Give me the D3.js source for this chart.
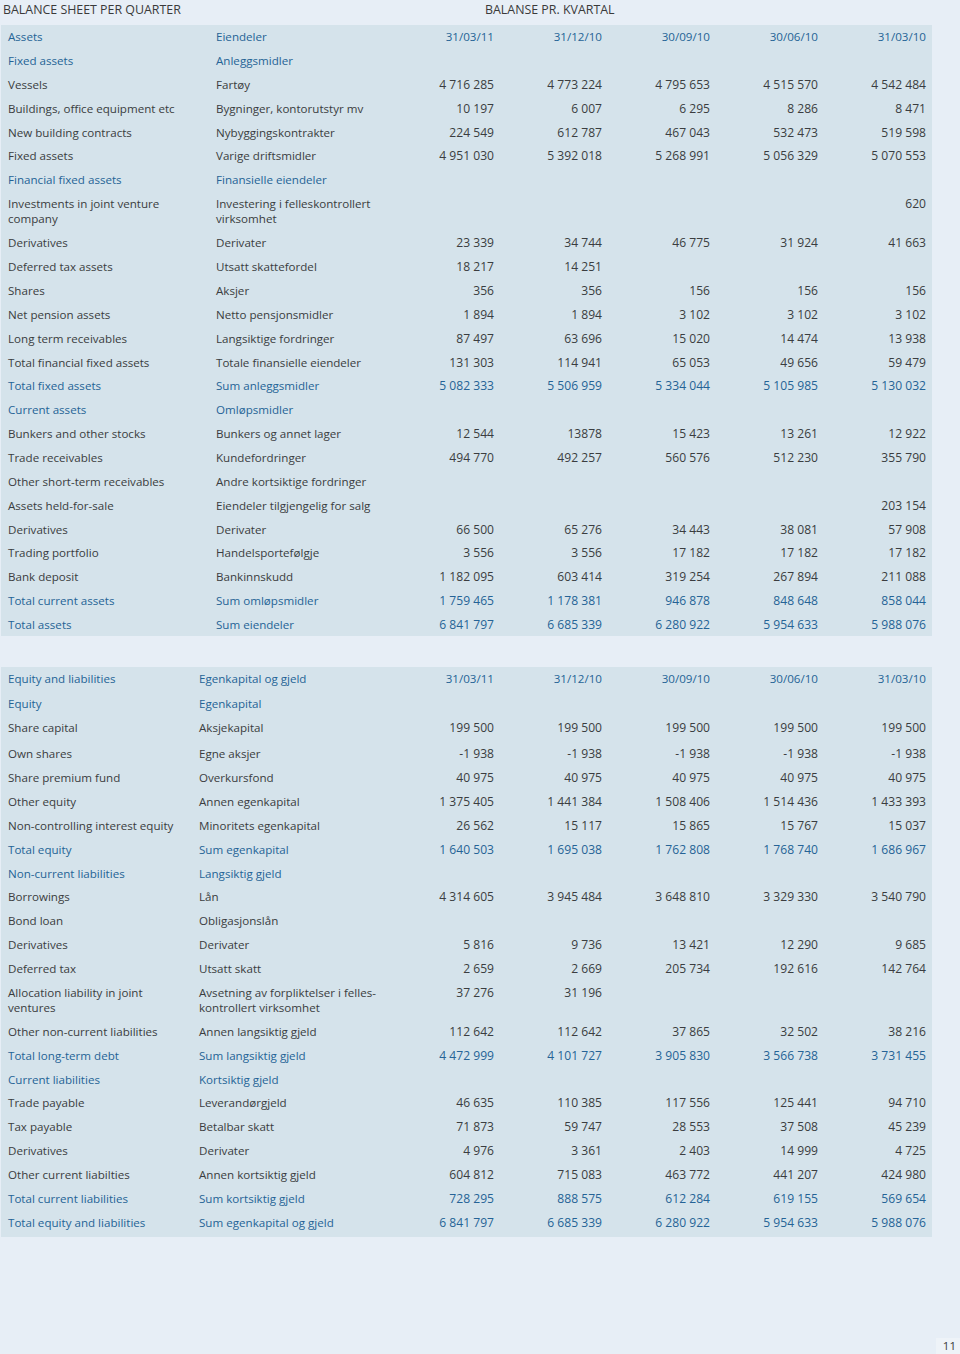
<!DOCTYPE html>
<html><head><meta charset="utf-8">
<script src="https://cdn.jsdelivr.net/npm/d3@7"></script>
<style>
html,body{margin:0;padding:0;background:#e7eef6;}
svg{display:block;}
text{font-family:"Open Sans","Noto Sans",sans-serif;}
</style></head><body>
<script>
// ---------- DATA ----------
const quarters = ["31/03/11","31/12/10","30/09/10","30/06/10","31/03/10"];

const assetLabelsEn = ["Assets","Fixed assets","Vessels","Buildings, office equipment etc","New building contracts","Fixed assets","Financial fixed assets","Investments in joint venture\ncompany","Derivatives","Deferred tax assets","Shares","Net pension assets","Long term receivables","Total financial fixed assets","Total fixed assets","Current assets","Bunkers and other stocks","Trade receivables","Other short-term receivables","Assets held-for-sale","Derivatives","Trading portfolio","Bank deposit","Total current assets","Total assets"];
const assetLabelsNo = ["Eiendeler","Anleggsmidler","Fartøy","Bygninger, kontorutstyr mv","Nybyggingskontrakter","Varige driftsmidler","Finansielle eiendeler","Investering i felleskontrollert\nvirksomhet","Derivater","Utsatt skattefordel","Aksjer","Netto pensjonsmidler","Langsiktige fordringer","Totale finansielle eiendeler","Sum anleggsmidler","Omløpsmidler","Bunkers og annet lager","Kundefordringer","Andre kortsiktige fordringer","Eiendeler tilgjengelig for salg","Derivater","Handelsportefølgje","Bankinnskudd","Sum omløpsmidler","Sum eiendeler"];
const assetValues = [
  quarters,
  ["","","","",""],
  ["4 716 285","4 773 224","4 795 653","4 515 570","4 542 484"],
  ["10 197","6 007","6 295","8 286","8 471"],
  ["224 549","612 787","467 043","532 473","519 598"],
  ["4 951 030","5 392 018","5 268 991","5 056 329","5 070 553"],
  ["","","","",""],
  ["","","","","620"],
  ["23 339","34 744","46 775","31 924","41 663"],
  ["18 217","14 251","","",""],
  ["356","356","156","156","156"],
  ["1 894","1 894","3 102","3 102","3 102"],
  ["87 497","63 696","15 020","14 474","13 938"],
  ["131 303","114 941","65 053","49 656","59 479"],
  ["5 082 333","5 506 959","5 334 044","5 105 985","5 130 032"],
  ["","","","",""],
  ["12 544","13878","15 423","13 261","12 922"],
  ["494 770","492 257","560 576","512 230","355 790"],
  ["","","","",""],
  ["","","","","203 154"],
  ["66 500","65 276","34 443","38 081","57 908"],
  ["3 556","3 556","17 182","17 182","17 182"],
  ["1 182 095","603 414","319 254","267 894","211 088"],
  ["1 759 465","1 178 381","946 878","848 648","858 044"],
  ["6 841 797","6 685 339","6 280 922","5 954 633","5 988 076"]
];
const assetHighlight = [0,1,6,14,15,23,24];

const liabLabelsEn = ["Equity and liabilities","Equity","Share capital","Own shares","Share premium fund","Other equity","Non-controlling interest equity","Total equity","Non-current liabilities","Borrowings","Bond loan","Derivatives","Deferred tax","Allocation liability in joint\nventures","Other non-current liabilities","Total long-term debt","Current liabilities","Trade payable","Tax payable","Derivatives","Other current liabilties","Total current liabilities","Total equity and liabilities"];
const liabLabelsNo = ["Egenkapital og gjeld","Egenkapital","Aksjekapital","Egne aksjer","Overkursfond","Annen egenkapital","Minoritets egenkapital","Sum egenkapital","Langsiktig gjeld","Lån","Obligasjonslån","Derivater","Utsatt skatt","Avsetning av forpliktelser i felles-\nkontrollert virksomhet","Annen langsiktig gjeld","Sum langsiktig gjeld","Kortsiktig gjeld","Leverandørgjeld","Betalbar skatt","Derivater","Annen kortsiktig gjeld","Sum kortsiktig gjeld","Sum egenkapital og gjeld"];
const liabValues = [
  quarters,
  ["","","","",""],
  ["199 500","199 500","199 500","199 500","199 500"],
  ["-1 938","-1 938","-1 938","-1 938","-1 938"],
  ["40 975","40 975","40 975","40 975","40 975"],
  ["1 375 405","1 441 384","1 508 406","1 514 436","1 433 393"],
  ["26 562","15 117","15 865","15 767","15 037"],
  ["1 640 503","1 695 038","1 762 808","1 768 740","1 686 967"],
  ["","","","",""],
  ["4 314 605","3 945 484","3 648 810","3 329 330","3 540 790"],
  ["","","","",""],
  ["5 816","9 736","13 421","12 290","9 685"],
  ["2 659","2 669","205 734","192 616","142 764"],
  ["37 276","31 196","","",""],
  ["112 642","112 642","37 865","32 502","38 216"],
  ["4 472 999","4 101 727","3 905 830","3 566 738","3 731 455"],
  ["","","","",""],
  ["46 635","110 385","117 556","125 441","94 710"],
  ["71 873","59 747","28 553","37 508","45 239"],
  ["4 976","3 361","2 403","14 999","4 725"],
  ["604 812","715 083","463 772","441 207","424 980"],
  ["728 295","888 575","612 284","619 155","569 654"],
  ["6 841 797","6 685 339","6 280 922","5 954 633","5 988 076"]
];
const liabHighlight = [0,1,7,8,15,16,21,22];

// ---------- LAYOUT ----------
const W = 960, H = 1354;
const C_TEXT = "#3a3d40", C_BLUE = "#256396", C_PANEL = "#d5e3eb", C_PAGE = "#e7eef6";
const FS = 11.6, FS_NUM = 12.1;
const ROW = 23.85, WRAP = 15.3;

const svg = d3.select("body").append("svg").attr("width", W).attr("height", H);
svg.append("rect").attr("width", W).attr("height", H).attr("fill", C_PAGE);

svg.append("text").attr("x", 3).attr("y", 13.5).attr("font-size", 12.4).attr("fill", "#3a3a3a").text("BALANCE SHEET PER QUARTER");
svg.append("text").attr("x", 485).attr("y", 13.5).attr("font-size", 12.4).attr("fill", "#3a3a3a").text("BALANSE PR. KVARTAL");

// numeric column scale (right edges)
const colX = d3.scalePoint().domain(d3.range(5)).range([494, 926]);

function drawPanel(cfg) {
  const g = svg.append("g");
  g.append("rect").attr("x", 1).attr("y", cfg.top).attr("width", 931).attr("height", cfg.bottom - cfg.top).attr("fill", C_PANEL);
  let y = cfg.firstY;
  const ys = [];
  cfg.en.forEach((lab, i) => {
    if (cfg.extraGap && cfg.extraGap[i]) y += cfg.extraGap[i];
    ys.push(y);
    const lines = Math.max(lab.split("\n").length, cfg.no[i].split("\n").length);
    y += ROW + (lines - 1) * WRAP;
  });
  const rows = g.selectAll("g.row").data(cfg.en.map((e, i) => ({en: e, no: cfg.no[i], vals: cfg.vals[i], y: ys[i], hl: cfg.hl.includes(i), hdr: i === 0})))
    .join("g").attr("class", "row").attr("transform", d => `translate(0,${d.y + 4.2})`);
  function multi(sel, x, key) {
    sel.append("text").attr("x", x).attr("font-size", FS).attr("fill", d => d.hl ? C_BLUE : C_TEXT)
      .each(function(d) {
        d3.select(this).selectAll("tspan").data(d[key].split("\n")).join("tspan")
          .attr("x", x).attr("dy", (t, j) => j ? WRAP : 0).text(t => t);
      });
  }
  multi(rows, 8, "en");
  multi(rows, cfg.col2, "no");
  rows.selectAll("text.v").data(d => d.vals.map((v, k) => ({v, k, hl: d.hl, hdr: d.hdr}))).join("text")
    .attr("class", "v").attr("x", d => colX(d.k)).attr("text-anchor", "end")
    .attr("font-size", d => d.hdr ? FS : FS_NUM).attr("fill", d => d.hl ? C_BLUE : C_TEXT).text(d => d.v);
}

drawPanel({top: 25, bottom: 636, firstY: 37, en: assetLabelsEn, no: assetLabelsNo, vals: assetValues, hl: assetHighlight, col2: 216});
drawPanel({top: 667, bottom: 1237, firstY: 679, en: liabLabelsEn, no: liabLabelsNo, vals: liabValues, hl: liabHighlight, col2: 199, extraGap: {1: 1, 3: 2.5}});

// page number
svg.append("rect").attr("x", 936).attr("y", 1338).attr("width", 24).attr("height", 16).attr("fill", "#eef3f8");
svg.append("text").attr("x", 956).attr("y", 1350).attr("text-anchor", "end").attr("font-size", 11.5).attr("fill", "#3a3a3a").text("11");
</script>
</body></html>
